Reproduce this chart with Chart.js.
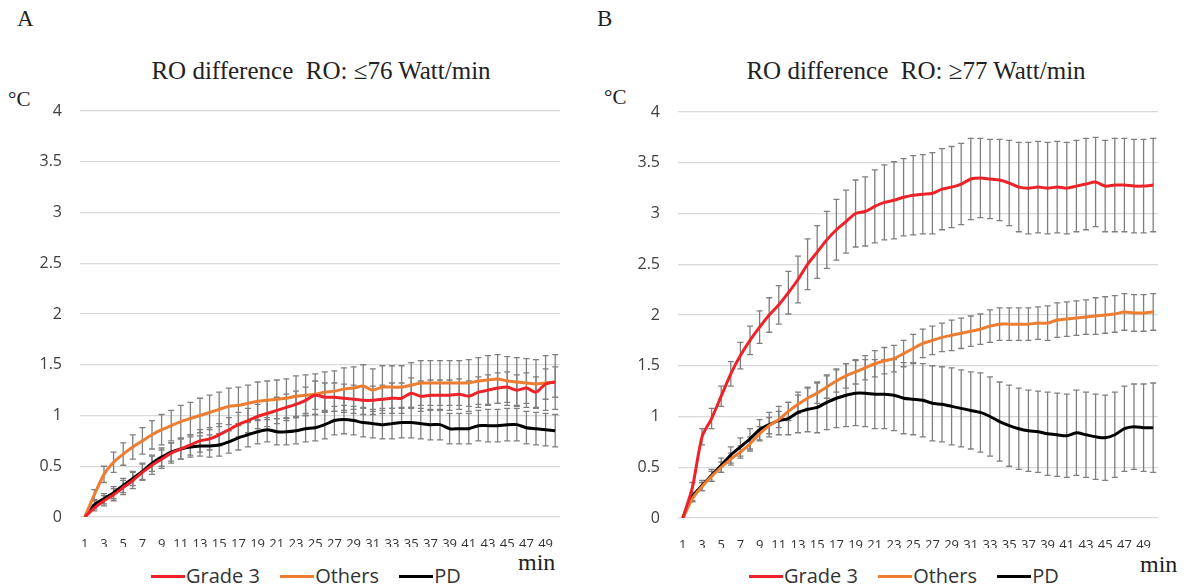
<!DOCTYPE html>
<html>
<head>
<meta charset="utf-8">
<script src="https://cdn.jsdelivr.net/npm/chart.js@4/dist/chart.umd.min.js"></script>
<style>
  body { margin: 0; background: #fff; width: 1191px; height: 586px; position: relative; overflow: hidden; }
  .abs { position: absolute; white-space: nowrap; }
  .serif { font-family: "Liberation Serif", "DejaVu Serif", serif; color: #222; }
  .title { font-size: 25px; transform: translateX(-50%); top: 57px; }
  .legend { font-family: "Open Sans", sans-serif; font-size: 20px; color: #333; top: 562px; }
  .legend span.sw { display: inline-block; width: 34px; height: 3px; vertical-align: middle; margin-right: 1px; position: relative; top: -1px; }
  .legend span.item { margin-right: 15px; }
  canvas { position: absolute; top: 0; }
</style>
</head>
<body>
<div class="abs serif" style="left:17px;top:6px;font-size:23px;">A</div>
<div class="abs serif" style="left:597px;top:6px;font-size:23px;">B</div>
<div class="abs serif title" style="left:321px;">RO difference&nbsp; RO: ≤76 Watt/min</div>
<div class="abs serif title" style="left:916px;">RO difference&nbsp; RO: ≥77 Watt/min</div>
<div class="abs serif" style="left:8px;top:87px;font-size:21px;">°C</div>
<div class="abs serif" style="left:604px;top:85px;font-size:21px;">°C</div>
<div class="abs serif" style="left:518px;top:549px;font-size:24px;">min</div>
<div class="abs serif" style="left:1140px;top:551px;font-size:24px;">min</div>
<div class="abs legend" style="left:151px;">
  <span class="item"><span class="sw" style="background:#ee2229"></span>Grade 3</span>
  <span class="item"><span class="sw" style="background:#ed7d31"></span>Others</span>
  <span class="item"><span class="sw" style="background:#000"></span>PD</span>
</div>
<div class="abs legend" style="left:749px;">
  <span class="item"><span class="sw" style="background:#ee2229"></span>Grade 3</span>
  <span class="item"><span class="sw" style="background:#ed7d31"></span>Others</span>
  <span class="item"><span class="sw" style="background:#000"></span>PD</span>
</div>
<canvas id="chartA" width="595" height="586" style="left:0px"></canvas>
<canvas id="chartB" width="593" height="586" style="left:598px"></canvas>
<script>
const minutes = [1,2,3,4,5,6,7,8,9,10,11,12,13,14,15,16,17,18,19,20,21,22,23,24,25,
  26,27,28,29,30,31,32,33,34,35,36,37,38,39,40,41,42,43,44,45,46,47,48,49,50];
const yTicks = [0, 0.5, 1, 1.5, 2, 2.5, 3, 3.5, 4];
const seriesNames = ['Grade 3', 'Others', 'PD'];

// panel A: RO <= 76 Watt/min
const gradeA = [0,0.09,0.16,0.22,0.29,0.36,0.44,0.51,0.57,0.63,0.67,0.71,0.75,0.77,0.81,0.86,0.91,0.95,0.99,1.02,
  1.05,1.08,1.11,1.15,1.20,1.18,1.18,1.17,1.16,1.15,1.15,1.16,1.17,1.17,1.22,1.19,1.20,1.20,1.20,1.21,
  1.19,1.23,1.25,1.27,1.28,1.25,1.27,1.23,1.31,1.33];
const gradeAErr = [0,0.03,0.05,0.06,0.07,0.08,0.08,0.09,0.09,0.10,0.10,0.10,0.11,0.11,0.11,0.12,0.12,0.12,0.12,0.13,
  0.13,0.13,0.13,0.13,0.14,0.14,0.14,0.14,0.14,0.14,0.14,0.14,0.15,0.15,0.15,0.15,0.15,0.15,0.15,0.15,
  0.15,0.15,0.15,0.15,0.15,0.15,0.15,0.15,0.15,0.15];
const othersA = [0,0.22,0.42,0.54,0.62,0.69,0.75,0.81,0.86,0.90,0.94,0.97,1.00,1.03,1.06,1.09,1.10,1.12,1.14,1.15,
  1.16,1.17,1.19,1.20,1.21,1.23,1.24,1.26,1.27,1.29,1.25,1.28,1.28,1.28,1.30,1.32,1.32,1.32,1.32,1.32,
  1.32,1.34,1.35,1.36,1.34,1.33,1.32,1.31,1.32,1.33];
const othersAErr = [0,0.05,0.08,0.10,0.11,0.12,0.13,0.14,0.15,0.15,0.16,0.16,0.17,0.17,0.17,0.18,0.18,0.18,0.19,0.19,
  0.19,0.19,0.20,0.20,0.20,0.20,0.20,0.21,0.21,0.21,0.21,0.21,0.21,0.21,0.22,0.22,0.22,0.22,0.22,0.22,
  0.23,0.23,0.24,0.24,0.24,0.24,0.24,0.24,0.27,0.27];
const pdA = [0,0.12,0.18,0.24,0.31,0.38,0.45,0.53,0.59,0.64,0.67,0.69,0.70,0.70,0.71,0.74,0.78,0.81,0.84,0.86,
  0.84,0.84,0.85,0.87,0.88,0.91,0.95,0.96,0.95,0.93,0.92,0.91,0.92,0.93,0.93,0.92,0.91,0.91,0.87,0.87,
  0.87,0.90,0.90,0.90,0.91,0.91,0.88,0.87,0.86,0.85];
const pdAErr = [0,0.04,0.05,0.06,0.07,0.07,0.08,0.08,0.09,0.09,0.10,0.10,0.10,0.11,0.11,0.11,0.12,0.12,0.12,0.12,
  0.13,0.13,0.13,0.13,0.13,0.14,0.14,0.14,0.14,0.14,0.14,0.14,0.15,0.15,0.15,0.15,0.15,0.15,0.15,0.15,
  0.15,0.15,0.16,0.16,0.16,0.16,0.16,0.16,0.16,0.16];

// panel B: RO >= 77 Watt/min
const gradeB = [0,0.30,0.80,0.98,1.20,1.42,1.60,1.75,1.88,2.00,2.10,2.22,2.35,2.50,2.62,2.74,2.84,2.92,3.00,3.02,
  3.07,3.11,3.13,3.16,3.18,3.19,3.20,3.24,3.26,3.29,3.34,3.35,3.34,3.33,3.30,3.26,3.25,3.26,3.25,3.26,
  3.25,3.27,3.29,3.31,3.27,3.28,3.28,3.27,3.27,3.28];
const gradeBErr = [0,0.05,0.08,0.10,0.10,0.12,0.13,0.14,0.16,0.17,0.19,0.21,0.23,0.25,0.26,0.28,0.30,0.31,0.33,0.34,
  0.36,0.37,0.38,0.38,0.39,0.39,0.40,0.40,0.40,0.40,0.40,0.39,0.39,0.40,0.42,0.44,0.45,0.45,0.45,0.45,
  0.45,0.45,0.45,0.44,0.45,0.46,0.46,0.46,0.46,0.46];
const othersB = [0,0.19,0.31,0.41,0.50,0.58,0.65,0.73,0.83,0.91,0.97,1.05,1.12,1.18,1.23,1.29,1.35,1.40,1.44,1.48,
  1.52,1.55,1.57,1.62,1.67,1.72,1.75,1.78,1.80,1.82,1.84,1.86,1.89,1.91,1.91,1.91,1.91,1.92,1.92,1.95,
  1.96,1.97,1.98,1.99,2.00,2.01,2.03,2.02,2.02,2.03];
const othersBErr = [0,0.03,0.04,0.05,0.05,0.06,0.06,0.07,0.07,0.08,0.08,0.09,0.09,0.10,0.10,0.11,0.11,0.12,0.12,0.12,
  0.13,0.13,0.13,0.13,0.14,0.14,0.14,0.14,0.15,0.15,0.15,0.15,0.16,0.16,0.16,0.16,0.16,0.16,0.17,0.17,
  0.17,0.17,0.17,0.18,0.18,0.18,0.18,0.18,0.18,0.18];
const pdB = [0,0.21,0.32,0.42,0.52,0.62,0.70,0.78,0.87,0.92,0.96,0.98,1.04,1.07,1.09,1.14,1.18,1.21,1.23,1.23,
  1.22,1.22,1.21,1.18,1.17,1.16,1.13,1.12,1.10,1.08,1.06,1.04,1.00,0.95,0.91,0.88,0.86,0.85,0.83,0.82,
  0.81,0.84,0.82,0.80,0.79,0.82,0.88,0.90,0.89,0.89];
const pdBErr = [0,0.04,0.05,0.06,0.07,0.08,0.09,0.10,0.10,0.12,0.14,0.16,0.20,0.22,0.25,0.27,0.29,0.31,0.32,0.33,
  0.34,0.34,0.35,0.35,0.35,0.36,0.37,0.37,0.38,0.38,0.38,0.39,0.39,0.39,0.40,0.40,0.40,0.40,0.41,0.41,
  0.41,0.42,0.42,0.42,0.42,0.42,0.42,0.42,0.43,0.44];

const colors = ['#ee2229', '#ed7d31', '#000000'];

// gray error bars with caps, drawn under the lines
const errorBars = {
  id: 'errorBars',
  beforeDatasetsDraw(chart) {
    const ctx = chart.ctx;
    const xs = chart.scales.x, ys = chart.scales.y;
    ctx.save();
    ctx.strokeStyle = '#7f7f7f';
    ctx.lineWidth = 1.3;
    chart.data.datasets.forEach(ds => {
      ds.errors.forEach((e, i) => {
        if (!e) return;
        const px = xs.getPixelForValue(i);
        const top = ys.getPixelForValue(ds.data[i] + e);
        const bot = ys.getPixelForValue(ds.data[i] - e);
        ctx.beginPath();
        ctx.moveTo(px, top); ctx.lineTo(px, bot);
        ctx.moveTo(px - 3, top); ctx.lineTo(px + 3, top);
        ctx.moveTo(px - 3, bot); ctx.lineTo(px + 3, bot);
        ctx.stroke();
      });
    });
    ctx.restore();
  }
};

function makeChart(id, values, errors, pad) {
  const datasets = values.map((v, k) => ({
    label: seriesNames[k],
    data: v,
    errors: errors[k],
    borderColor: colors[k],
    borderWidth: 3,
    pointRadius: 0,
    tension: 0.25,
    fill: false
  }));
  return new Chart(document.getElementById(id), {
    type: 'line',
    data: { labels: minutes, datasets: datasets },
    options: {
      responsive: false,
      animation: false,
      layout: { padding: pad },
      plugins: { legend: { display: false }, tooltip: { enabled: false } },
      scales: {
        x: {
          offset: true,
          grid: { display: false },
          border: { display: false },
          afterFit: s => { s.height = 30; },
          ticks: {
            autoSkip: false, maxRotation: 0, padding: 11,
            color: '#333333',
            font: { family: 'Open Sans', size: 13 },
            callback: (val, idx) => idx % 2 === 0 ? minutes[idx] : ''
          }
        },
        y: {
          min: 0, max: 4,
          afterBuildTicks: s => { s.ticks = yTicks.map(v => ({ value: v })); },
          afterFit: s => { s.width = 80; },
          grid: { color: '#d9d9d9', lineWidth: 1.3, drawTicks: false },
          border: { display: false },
          ticks: {
            padding: 18,
            color: '#404040',
            font: { family: 'Open Sans', size: 16 },
            callback: v => String(v)
          }
        }
      }
    },
    plugins: [errorBars]
  });
}

makeChart('chartA', [gradeA, othersA, pdA], [gradeAErr, othersAErr, pdAErr],
  { left: 0, right: 35, top: 111, bottom: 39 });
makeChart('chartB', [gradeB, othersB, pdB], [gradeBErr, othersBErr, pdBErr],
  { left: 0, right: 33, top: 112, bottom: 38 });
</script>
</body>
</html>
